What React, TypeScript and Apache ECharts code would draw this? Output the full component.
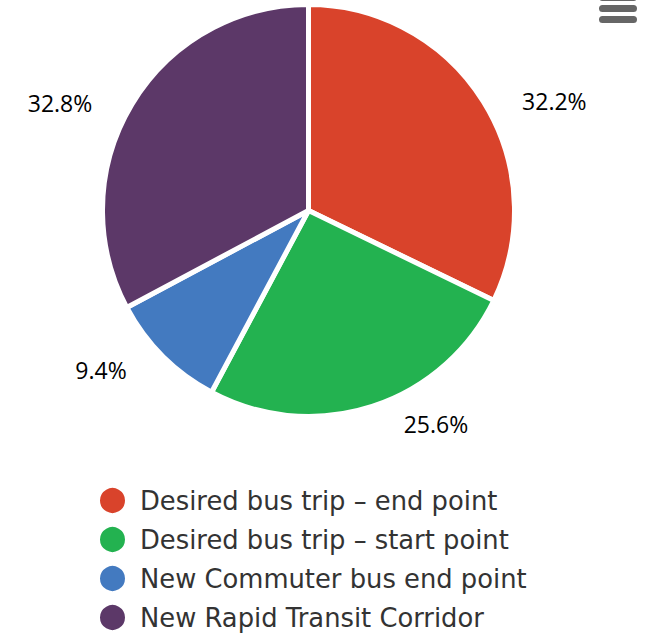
import React, { useEffect, useRef } from "react";
import * as echarts from "echarts";

const categories = [
  "Desired bus trip – end point",
  "Desired bus trip – start point",
  "New Commuter bus end point",
  "New Rapid Transit Corridor",
];
const shares = [32.2, 25.6, 9.4, 32.8];
const colors = ["#d9432b", "#23b250", "#437ac0", "#5c3868"];
// per-slice label line lengths (style only) to mimic the reference label placement
const labelLen = [0, 18, 20, 3];
const labelLen2 = [34, 21, 17, 32];

export default function App() {
  const ref = useRef<HTMLDivElement>(null);
  useEffect(() => {
    if (!ref.current) return;
    const chart = echarts.init(ref.current, undefined, { renderer: "svg" });
    chart.setOption({
      animation: false,
      backgroundColor: "#ffffff",
      color: colors,
      legend: {
        orient: "vertical",
        left: 98,
        top: 486,
        height: 170,
        padding: 0,
        icon: "circle",
        itemWidth: 27,
        itemHeight: 27,
        itemGap: 10,
        selectedMode: false,
        textStyle: {
          fontFamily: "DejaVu Sans",
          fontSize: 25.8,
          color: "#333333",
          padding: [0, 0, 0, 9],
        },
        data: categories,
      },
      graphic: [
        { type: "rect", shape: { x: 599, y: -6, width: 38, height: 7, r: 3.5 }, style: { fill: "#666666" } },
        { type: "rect", shape: { x: 599, y: 5, width: 38, height: 7, r: 3.5 }, style: { fill: "#666666" } },
        { type: "rect", shape: { x: 599, y: 16, width: 38, height: 7, r: 3.5 }, style: { fill: "#666666" } },
      ],
      series: [
        {
          type: "pie",
          center: [308.5, 210.5],
          radius: 206,
          startAngle: 90,
          clockwise: true,
          avoidLabelOverlap: false,
          itemStyle: { borderColor: "#ffffff", borderWidth: 5 },
          label: {
            show: true,
            position: "outside",
            formatter: (p: any) => p.value.toFixed(1) + "%",
            fontFamily: "Open Sans",
            fontSize: 23,
            color: "#000000",
          },
          labelLine: { show: false },
          emphasis: { disabled: true },
          data: categories.map((name, i) => ({
            name,
            value: shares[i],
            labelLine: { show: false, length: labelLen[i], length2: labelLen2[i] },
          })),
        },
      ],
    });
    return () => chart.dispose();
  }, []);
  return (
    <div
      ref={ref}
      style={{ position: "fixed", left: 0, top: 0, width: 656, height: 635 }}
    />
  );
}
